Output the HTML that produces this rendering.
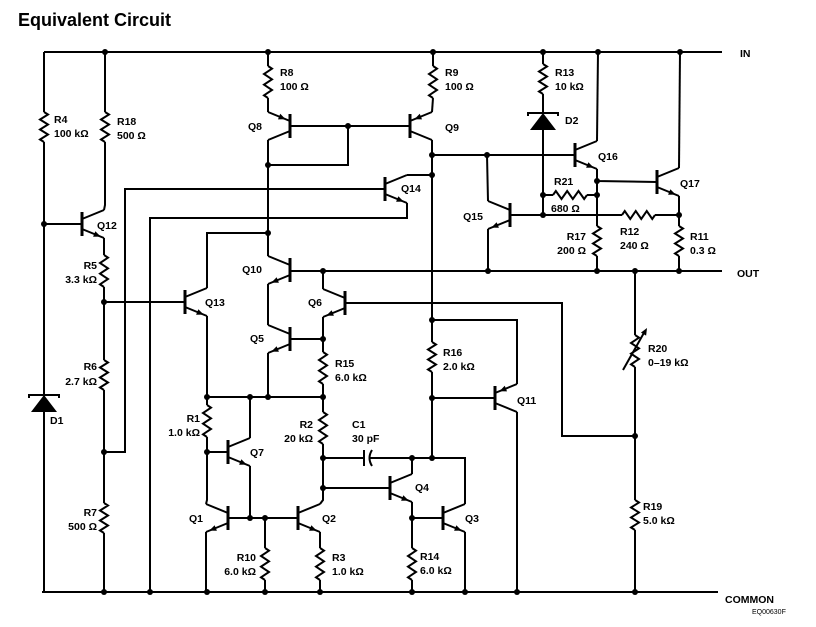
<!DOCTYPE html>
<html><head><meta charset="utf-8"><style>
body{margin:0;background:#fff}
svg{display:block}
text{font-family:"Liberation Sans",sans-serif;font-weight:bold;font-size:10.5px;fill:#000}
</style></head><body>
<svg id="s" width="816" height="627" viewBox="0 0 816 627">
<text x="18" y="26" style="font-size:18px">Equivalent  Circuit</text>
<g id="w" stroke="#000" stroke-width="2" fill="none"></g>
<g id="d" fill="#000"></g>
<text x="740" y="57">IN</text>
<text x="737" y="277">OUT</text>
<text x="725" y="603">COMMON</text>
<text x="752" y="614" style="font-size:7px;font-weight:normal">EQ00630F</text>
<text x="54" y="123">R4</text><text x="54" y="137">100 kΩ</text>
<text x="117" y="125">R18</text><text x="117" y="139">500 Ω</text>
<text x="97" y="229">Q12</text>
<text x="97" y="269" text-anchor="end">R5</text><text x="97" y="283" text-anchor="end">3.3 kΩ</text>
<text x="97" y="370" text-anchor="end">R6</text><text x="97" y="385" text-anchor="end">2.7 kΩ</text>
<text x="97" y="516" text-anchor="end">R7</text><text x="97" y="530" text-anchor="end">500 Ω</text>
<text x="50" y="424">D1</text>
<text x="205" y="306">Q13</text>
<text x="262" y="130" text-anchor="end">Q8</text>
<text x="280" y="76">R8</text><text x="280" y="90">100 Ω</text>
<text x="445" y="76">R9</text><text x="445" y="90">100 Ω</text>
<text x="445" y="131">Q9</text>
<text x="555" y="76">R13</text><text x="555" y="90">10 kΩ</text>
<text x="565" y="124">D2</text>
<text x="598" y="160">Q16</text>
<text x="680" y="187">Q17</text>
<text x="554" y="185">R21</text><text x="551" y="212">680 Ω</text>
<text x="483" y="220" text-anchor="end">Q15</text>
<text x="401" y="192">Q14</text>
<text x="586" y="240" text-anchor="end">R17</text><text x="586" y="254" text-anchor="end">200 Ω</text>
<text x="620" y="235">R12</text><text x="620" y="249">240 Ω</text>
<text x="690" y="240">R11</text><text x="690" y="254">0.3 Ω</text>
<text x="262" y="273" text-anchor="end">Q10</text>
<text x="322" y="306" text-anchor="end">Q6</text>
<text x="264" y="342" text-anchor="end">Q5</text>
<text x="335" y="367">R15</text><text x="335" y="381">6.0 kΩ</text>
<text x="200" y="422" text-anchor="end">R1</text><text x="200" y="436" text-anchor="end">1.0 kΩ</text>
<text x="250" y="456">Q7</text>
<text x="313" y="428" text-anchor="end">R2</text><text x="313" y="442" text-anchor="end">20 kΩ</text>
<text x="352" y="428">C1</text><text x="352" y="442">30 pF</text>
<text x="415" y="491">Q4</text>
<text x="465" y="522">Q3</text>
<text x="203" y="522" text-anchor="end">Q1</text>
<text x="322" y="522">Q2</text>
<text x="256" y="561" text-anchor="end">R10</text><text x="256" y="575" text-anchor="end">6.0 kΩ</text>
<text x="332" y="561">R3</text><text x="332" y="575">1.0 kΩ</text>
<text x="420" y="560">R14</text><text x="420" y="574">6.0 kΩ</text>
<text x="443" y="356">R16</text><text x="443" y="370">2.0  kΩ</text>
<text x="517" y="404">Q11</text>
<text x="648" y="352">R20</text><text x="648" y="366">0–19 kΩ</text>
<text x="643" y="510">R19</text><text x="643" y="524">5.0 kΩ</text>
</svg>
<script>
const W=document.getElementById('w'),D=document.getElementById('d'),NS='http://www.w3.org/2000/svg';
function el(p,t,a){const e=document.createElementNS(NS,t);for(const k in a)e.setAttribute(k,a[k]);p.appendChild(e);return e;}
function pl(...p){let s='';for(let i=0;i<p.length;i+=2)s+=p[i]+','+p[i+1]+' ';el(W,'polyline',{points:s});}
function rv(x,y1,y2){let s=`M${x},${y1}`;const n=6,h=(y2-y1)/n;for(let i=0;i<n;i++){s+=` L${x+(i%2?-4:4)},${y1+h*(i+0.5)}`;}s+=` L${x},${y2}`;el(W,'path',{d:s});}
function rh(y,x1,x2){let s=`M${x1},${y}`;const n=6,h=(x2-x1)/n;for(let i=0;i<n;i++){s+=` L${x1+h*(i+0.5)},${y+(i%2?4:-4)}`;}s+=` L${x2},${y}`;el(W,'path',{d:s});}
function arrow(x1,y1,x2,y2){const a=Math.atan2(y2-y1,x2-x1),L=7,w=3;const p=[x2,y2,x2-L*Math.cos(a)+w*Math.sin(a),y2-L*Math.sin(a)-w*Math.cos(a),x2-L*Math.cos(a)-w*Math.sin(a),y2-L*Math.sin(a)+w*Math.cos(a)];el(D,'polygon',{points:p.join(',')});}
function T(bx,by,side,leg,out){el(W,'line',{x1:bx,y1:by-12,x2:bx,y2:by+12,'stroke-width':3});
 const cx=bx+side*22;pl(bx,by-5,cx,by-14);pl(bx,by+5,cx,by+14);
 const sy=leg=='t'?-1:1;const ax=bx,ay=by+sy*5,ex=cx,ey=by+sy*14;
 if(out)arrow(ax,ay,ax+(ex-ax)*0.85,ay+(ey-ay)*0.85);else arrow(ex,ey,ax+(ex-ax)*0.2,ay+(ey-ay)*0.2);}
function dot(x,y){el(D,'circle',{cx:x,cy:y,r:3});}
function diode(x,y){el(D,'polygon',{points:`${x},${y} ${x-13},${y+17} ${x+13},${y+17}`});pl(x-15,y+3,x-15,y,x+15,y,x+15,y+3);}
pl(44,52,722,52);pl(42,592,718,592);
pl(44,52,44,112);rv(44,112,142);pl(44,142,44,395);diode(44,395);pl(44,395,44,592);
pl(105,52,105,112);rv(105,112,142);pl(105,142,105,205,104,210);
pl(44,224,82,224);
pl(104,238,104,255);rv(104,255,287);pl(104,287,104,360);rv(104,360,390);pl(104,390,104,503);rv(104,503,533);pl(104,533,104,592);
pl(104,302,185,302);
pl(104,452,125,452,125,189,385,189);
pl(150,592,150,218,407,218,407,203);
pl(407,175,432,175);
pl(207,288,207,233,268,233);
pl(207,316,207,405);rv(207,405,437);pl(207,437,207,500,206,504);
pl(206,532,206,592);
pl(268,52,268,66);rv(268,66,98);pl(268,98,268,112);
pl(268,140,268,256);pl(290,126,410,126);pl(348,126,348,165,268,165);
pl(268,284,268,325);pl(268,353,268,397);
pl(290,271,722,271);
pl(323,289,323,271);pl(323,317,323,339);pl(290,339,323,339);
pl(323,339,323,352);rv(323,352,384);pl(323,384,323,412);rv(323,412,444);pl(323,444,323,500,320,504);
pl(207,397,323,397);pl(250,438,250,397);pl(207,452,228,452);pl(250,466,250,518);
pl(228,518,298,518);pl(265,518,265,548);rv(265,548,580);pl(265,580,265,592);
pl(320,532,320,548);rv(320,548,580);pl(320,580,320,592);
pl(323,458,364,458);el(W,'line',{x1:364,y1:450,x2:364,y2:466});el(W,'path',{d:'M372,450 Q367,458 372,466'});pl(369,458,465,458,465,504);
pl(412,474,412,458);pl(323,488,390,488);
pl(412,502,412,518,443,518);pl(412,518,412,548);rv(412,548,580);pl(412,580,412,592);
pl(465,532,465,592);
pl(433,52,433,66);rv(433,66,98);pl(433,98,432,112);
pl(432,140,432,342);rv(432,342,372);pl(432,372,432,458);
pl(432,320,517,320,517,384);pl(432,398,495,398);pl(517,412,517,592);
pl(345,303,562,303,562,436,635,436);
pl(635,271,635,335);rv(635,335,367);pl(635,367,635,500);rv(635,500,530);pl(635,530,635,592);
pl(623,370,645,331);arrow(623,370,647,328);
pl(432,155,575,155);pl(487,155,488,201);pl(488,229,488,271);
pl(543,52,543,64);rv(543,64,94);pl(543,94,543,113);diode(543,113);pl(543,130,543,215);
pl(597,141,598,52);pl(597,169,597,181,657,182);pl(597,181,597,226);rv(597,226,256);pl(597,256,597,271);
pl(543,195,553,195);rh(195,553,587);pl(587,195,597,195);
pl(510,215,622,215);rh(215,622,655);pl(655,215,679,215);
pl(679,168,680,52);pl(679,196,679,226);rv(679,226,256);pl(679,256,679,271);
T(290,126,-1,'t',false);T(410,126,1,'t',false);T(82,224,1,'b',true);T(185,302,1,'b',true);
T(385,189,1,'b',true);T(290,270,-1,'b',true);T(345,303,-1,'b',true);T(290,339,-1,'b',true);
T(228,452,1,'b',true);T(228,518,-1,'b',true);T(298,518,1,'b',true);T(390,488,1,'b',true);
T(443,518,1,'b',true);T(495,398,1,'t',false);T(575,155,1,'b',true);T(657,182,1,'b',true);T(510,215,-1,'b',true);
[[105,52],[268,52],[433,52],[543,52],[598,52],[680,52],[44,224],[104,302],[104,452],[104,592],[150,592],[207,592],[265,592],[320,592],[412,592],[465,592],[517,592],[635,592],[268,165],[348,126],[268,233],[323,271],[323,339],[207,397],[250,397],[268,397],[323,397],[207,452],[250,518],[265,518],[323,458],[323,488],[412,458],[432,458],[412,518],[432,155],[432,175],[432,320],[432,398],[487,155],[543,195],[543,215],[597,181],[597,195],[679,215],[488,271],[597,271],[635,271],[679,271],[635,436]].forEach(p=>dot(p[0],p[1]));
</script>
</body></html>
